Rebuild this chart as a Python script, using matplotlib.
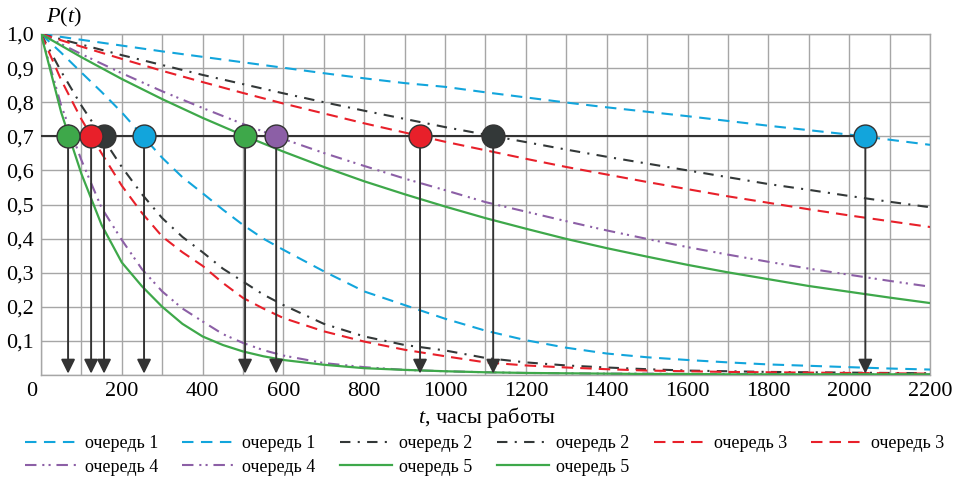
import numpy as np
import matplotlib
matplotlib.use('Agg')
import matplotlib.pyplot as plt
from matplotlib.transforms import ScaledTranslation

plt.rcParams['font.family'] = ['Liberation Serif', 'DejaVu Serif']
plt.rcParams['mathtext.fontset'] = 'custom'
plt.rcParams['mathtext.rm'] = 'Liberation Serif'
plt.rcParams['mathtext.it'] = 'Liberation Serif:italic'

# часы работы: шаг 100 для верхних кривых, шаг 50 в начале для нижних
hours = [0, 100, 200, 300, 400, 500, 600, 700, 800, 900, 1000, 1100,
         1200, 1300, 1400, 1500, 1600, 1700, 1800, 1900, 2000, 2100, 2200]
hours_low = [0, 50, 100, 150, 200, 250, 300, 350, 400, 450, 500, 550, 600,
             700, 800, 900, 1000, 1100, 1200, 1300, 1400, 1500, 1600, 1700,
             1800, 1900, 2000, 2100, 2200]

# верхние кривые
q1_up = [1.0, 0.983, 0.966, 0.949, 0.933, 0.917, 0.901, 0.885, 0.870, 0.856, 0.845, 0.829,
         0.814, 0.799, 0.785, 0.772, 0.759, 0.745, 0.731, 0.718, 0.705, 0.690, 0.675]
q2_up = [1.0, 0.969, 0.938, 0.909, 0.880, 0.853, 0.826, 0.800, 0.775, 0.751, 0.727, 0.705,
         0.683, 0.661, 0.640, 0.620, 0.600, 0.580, 0.560, 0.543, 0.525, 0.508, 0.492]
q3_up = [1.0, 0.963, 0.927, 0.892, 0.859, 0.827, 0.796, 0.767, 0.738, 0.711, 0.684, 0.659,
         0.634, 0.610, 0.588, 0.566, 0.545, 0.524, 0.505, 0.486, 0.468, 0.451, 0.434]
q4_up = [1.0, 0.941, 0.885, 0.832, 0.783, 0.736, 0.692, 0.651, 0.613, 0.576, 0.542, 0.507,
         0.479, 0.451, 0.424, 0.399, 0.375, 0.353, 0.332, 0.312, 0.294, 0.276, 0.259]
q5_up = [1.0, 0.932, 0.868, 0.809, 0.754, 0.703, 0.655, 0.610, 0.568, 0.530, 0.494, 0.460,
         0.429, 0.399, 0.372, 0.347, 0.323, 0.301, 0.281, 0.261, 0.244, 0.227, 0.211]

# нижние кривые
q1_low = [1.0, 0.945, 0.887, 0.830, 0.770, 0.703, 0.637, 0.580, 0.533, 0.485, 0.440, 0.400,
          0.367, 0.304, 0.245, 0.205, 0.165, 0.130, 0.102, 0.080, 0.063, 0.052, 0.044,
          0.037, 0.031, 0.027, 0.023, 0.019, 0.016]
q2_low = [1.0, 0.890, 0.790, 0.700, 0.610, 0.530, 0.460, 0.405, 0.360, 0.312, 0.274, 0.236,
          0.205, 0.150, 0.113, 0.088, 0.072, 0.050, 0.037, 0.028, 0.022, 0.017, 0.013,
          0.011, 0.009, 0.008, 0.007, 0.006, 0.005]
q3_low = [1.0, 0.865, 0.750, 0.650, 0.555, 0.475, 0.406, 0.360, 0.320, 0.270, 0.226, 0.195,
          0.167, 0.128, 0.098, 0.074, 0.055, 0.037, 0.028, 0.022, 0.017, 0.013, 0.011,
          0.009, 0.008, 0.007, 0.006, 0.005, 0.004]
q4_low = [1.0, 0.790, 0.630, 0.490, 0.396, 0.310, 0.245, 0.195, 0.157, 0.120, 0.094, 0.073,
          0.057, 0.035, 0.023, 0.015, 0.011, 0.008, 0.006, 0.005, 0.004, 0.004, 0.003,
          0.003, 0.003, 0.002, 0.002, 0.002, 0.002]
q5_low = [1.0, 0.770, 0.590, 0.440, 0.330, 0.260, 0.200, 0.150, 0.113, 0.088, 0.069, 0.055,
          0.044, 0.030, 0.020, 0.015, 0.011, 0.008, 0.006, 0.005, 0.004, 0.003, 0.003,
          0.002, 0.002, 0.002, 0.002, 0.002, 0.002]

# точки P = 0,7
level = 0.7
mark_t = [156, 124, 67, 255, 505, 582, 938, 1119, 2040]
mark_q = [2, 3, 5, 1, 5, 4, 3, 2, 1]

colors = {1: '#12a5dc', 2: '#333838', 3: '#e8202a', 4: '#8c5fa6', 5: '#3ea84a'}
styles = {1: dict(dashes=(5.5, 3.6)),
          2: dict(dashes=(5.0, 3.5, 1.0, 3.5)),
          3: dict(dashes=(5.5, 3.4)),
          4: dict(dashes=(5.5, 2.8, 1.0, 2.0, 1.0, 2.8)),
          5: dict(linestyle='-')}

fig = plt.figure(figsize=(9.59, 4.80), dpi=100)
ax = fig.add_axes([41 / 959, 1 - 375 / 480, 889 / 959, 341 / 480])

ax.set_xlim(0, 2200)
ax.set_ylim(0, 1)
ax.set_xticks(np.arange(0, 2201, 100))
ax.grid(True, color='#a6a6a6', lw=1.0, zorder=0)
ax.set_axisbelow(True)
for s in ax.spines.values():
    s.set_color('#a6a6a6')
    s.set_linewidth(1.0)
ax.tick_params(length=0, labelsize=16, pad=5)
ax.tick_params(axis='x', pad=5)
ax.set_xticklabels([str(v) if v % 200 == 0 else '' for v in range(0, 2201, 100)])
ax.set_yticks(np.arange(0, 1.01, 0.1))
ax.set_yticklabels([''] + [f'{v:.1f}'.replace('.', ',') for v in np.arange(0.1, 1.01, 0.1)])
lbl0 = ax.get_xticklabels()[0]
lbl0.set_transform(lbl0.get_transform() + ScaledTranslation(-7 / 72, 0, fig.dpi_scale_trans))

series = {1: (q1_up, q1_low), 2: (q2_up, q2_low), 3: (q3_up, q3_low),
          4: (q4_up, q4_low), 5: (q5_up, q5_low)}
handles = {}
for q, (up, low) in series.items():
    lw = 1.6 if q == 5 else 1.5
    h1, = ax.plot(hours, up, color=colors[q], lw=lw, label=f'очередь {q}', zorder=3, **styles[q])
    h2, = ax.plot(hours_low, low, color=colors[q], lw=lw, label=f'очередь {q}', zorder=3, **styles[q])
    handles[q] = (h1, h2)

# горизонталь 0,7
ax.plot([0, mark_t[-1]], [level, level], color='#333333', lw=1.5, zorder=4)

for i, (t, q) in enumerate(zip(mark_t, mark_q)):
    ax.annotate('', xy=(t, 0.004), xytext=(t, level),
                arrowprops=dict(arrowstyle='-|>,head_length=0.85,head_width=0.42',
                                color='#333333', lw=1.4, shrinkA=0, shrinkB=0,
                                mutation_scale=10), zorder=4)
    ax.plot(t, level, 'o', ms=16.5, mfc=colors[q], mec='#333333', mew=1.0, zorder=5 + i)

fig.text(64 / 959, 1 - 17 / 480, r'$P(t)$', fontsize=16, ha='center', va='center')
fig.text(487 / 959, 1 - 417 / 480, r'$t$, часы работы', fontsize=16, ha='center', va='center')

order = [handles[1][0], handles[4][0], handles[1][1], handles[4][1],
         handles[2][0], handles[5][0], handles[2][1], handles[5][1],
         handles[3][0], handles[3][1]]
fig.legend(order, [h.get_label() for h in order], ncol=6, frameon=False,
           loc='upper left', bbox_to_anchor=(25 / 959, 1 - 435 / 480),
           fontsize=13, handlelength=2.9, handletextpad=0.4, columnspacing=1.35,
           labelspacing=0.36, borderaxespad=0, borderpad=0)

fig.savefig('out.png', dpi=100)
